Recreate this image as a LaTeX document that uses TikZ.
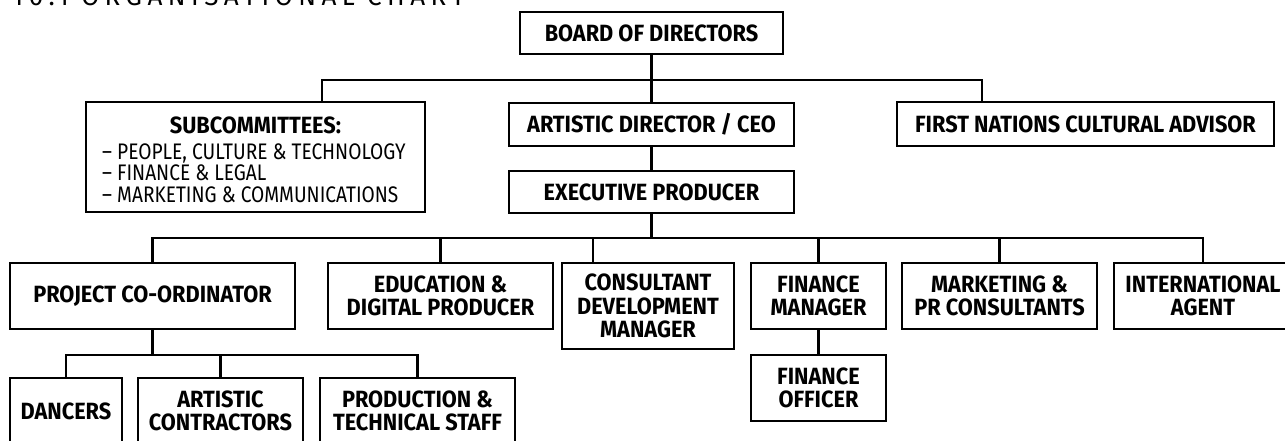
\documentclass[tikz,border=0pt]{standalone}
\usepackage{fontspec}
\newfontfamily\boxfont{Fira Sans}[FakeStretch=0.925]
\newfontfamily\listfont{Fira Sans}[FakeStretch=0.85]
\newfontfamily\titlefont{Fira Sans}[LetterSpace=21]
\begin{document}
\begin{tikzpicture}[x=1pt,y=-1pt,
  unit/.style={draw=black, line width=2.4pt, fill=white, inner sep=0pt,
    align=center, text=black,
    font=\boxfont\bfseries\fontsize{23.5}{23.2}\selectfont},
  listline/.style={anchor=base west, inner sep=0pt, text=black,
    font=\listfont\fontsize{22.5}{22}\selectfont},
  link/.style={draw=black, line width=2.2pt, line join=miter}
]
\useasboundingbox (0,0) rectangle (1285,440);
\clip (0,0) rectangle (1285,440);

% heading, partly above the page
\node[anchor=base west, inner sep=0pt, text=black,
  font=\titlefont\fontsize{26}{26}\selectfont] (title) at (12,5.5)
  {10.1 ORGANISATIONAL CHART};

% governance level
\node[unit, minimum width=263pt, minimum height=42pt] (board) at (651.5,33) {BOARD OF DIRECTORS};
\node[unit, minimum width=339pt, minimum height=110pt] (subc) at (255.5,157) {};
\node[anchor=base, inner sep=0pt, text=black,
  font=\boxfont\bfseries\fontsize{23.5}{23}\selectfont] (subchead) at (255.5,133) {SUBCOMMITTEES:};
\node[listline] (subc1) at (102,159) {– PEOPLE, CULTURE \& TECHNOLOGY};
\node[listline] (subc2) at (102,180.5) {– FINANCE \& LEGAL};
\node[listline] (subc3) at (102,202) {– MARKETING \& COMMUNICATIONS};
\node[unit, minimum width=285pt, minimum height=43pt] (ceo) at (651.5,124.5) {ARTISTIC DIRECTOR / CEO};
\node[unit, minimum width=377pt, minimum height=44pt] (fn) at (1085.5,124) {FIRST NATIONS CULTURAL ADVISOR};
\node[unit, minimum width=285pt, minimum height=42pt] (exec) at (651.5,192) {EXECUTIVE PRODUCER};

% staff level
\node[unit, minimum width=285pt, minimum height=66pt] (proj) at (152.5,296) {PROJECT CO-ORDINATOR};
\node[unit, minimum width=225pt, minimum height=66pt] (edu) at (440.5,296) {EDUCATION \&\\DIGITAL PRODUCER};
\node[unit, minimum width=172pt, minimum height=86pt] (cons) at (648,306) {CONSULTANT\\DEVELOPMENT\\MANAGER};
\node[unit, minimum width=135pt, minimum height=66pt] (finm) at (818.5,296) {FINANCE\\MANAGER};
\node[unit, minimum width=195pt, minimum height=66pt] (mkt) at (999.5,296) {MARKETING \&\\PR CONSULTANTS};
\node[unit, minimum width=178pt, minimum height=66pt] (intl) at (1203,296) {INTERNATIONAL\\AGENT};
\node[unit, minimum width=135pt, minimum height=66pt] (fino) at (818.5,388) {FINANCE\\OFFICER};

% project teams
\node[unit, minimum width=112pt, minimum height=66pt] (dancers) at (66,411) {DANCERS};
\node[unit, minimum width=165pt, minimum height=66pt] (artc) at (220.5,411) {ARTISTIC\\CONTRACTORS};
\node[unit, minimum width=195pt, minimum height=66pt] (prod) at (417.5,411) {PRODUCTION \&\\TECHNICAL STAFF};

% bus lines
\coordinate (subctap) at (322,80);
\coordinate (fntap) at (982,80);
\coordinate (staffbus) at (0,238);
\coordinate (constap) at (593,238);
\coordinate (teambus) at (0,355);

\draw[link] (board.south) -- (ceo.north);
\draw[link] (subctap |- subc.north) -- (subctap) -- (fntap) -- (fntap |- fn.north);
\draw[link] (ceo.south) -- (exec.north);

\draw[link] (exec.south) -- (exec.south |- staffbus);
\draw[link] (proj.north) -- (proj.north |- staffbus) -- (intl.north |- staffbus) -- (intl.north);
\draw[link] (edu.north) -- (edu.north |- staffbus);
\draw[link] (constap |- cons.north) -- (constap);
\draw[link] (finm.north) -- (finm.north |- staffbus);
\draw[link] (mkt.north) -- (mkt.north |- staffbus);
\draw[link] (finm.south) -- (fino.north);

\draw[link] (proj.south) -- (proj.south |- teambus);
\draw[link] (dancers.north) -- (dancers.north |- teambus) -- (prod.north |- teambus) -- (prod.north);
\draw[link] (artc.north) -- (artc.north |- teambus);
\end{tikzpicture}
\end{document}
